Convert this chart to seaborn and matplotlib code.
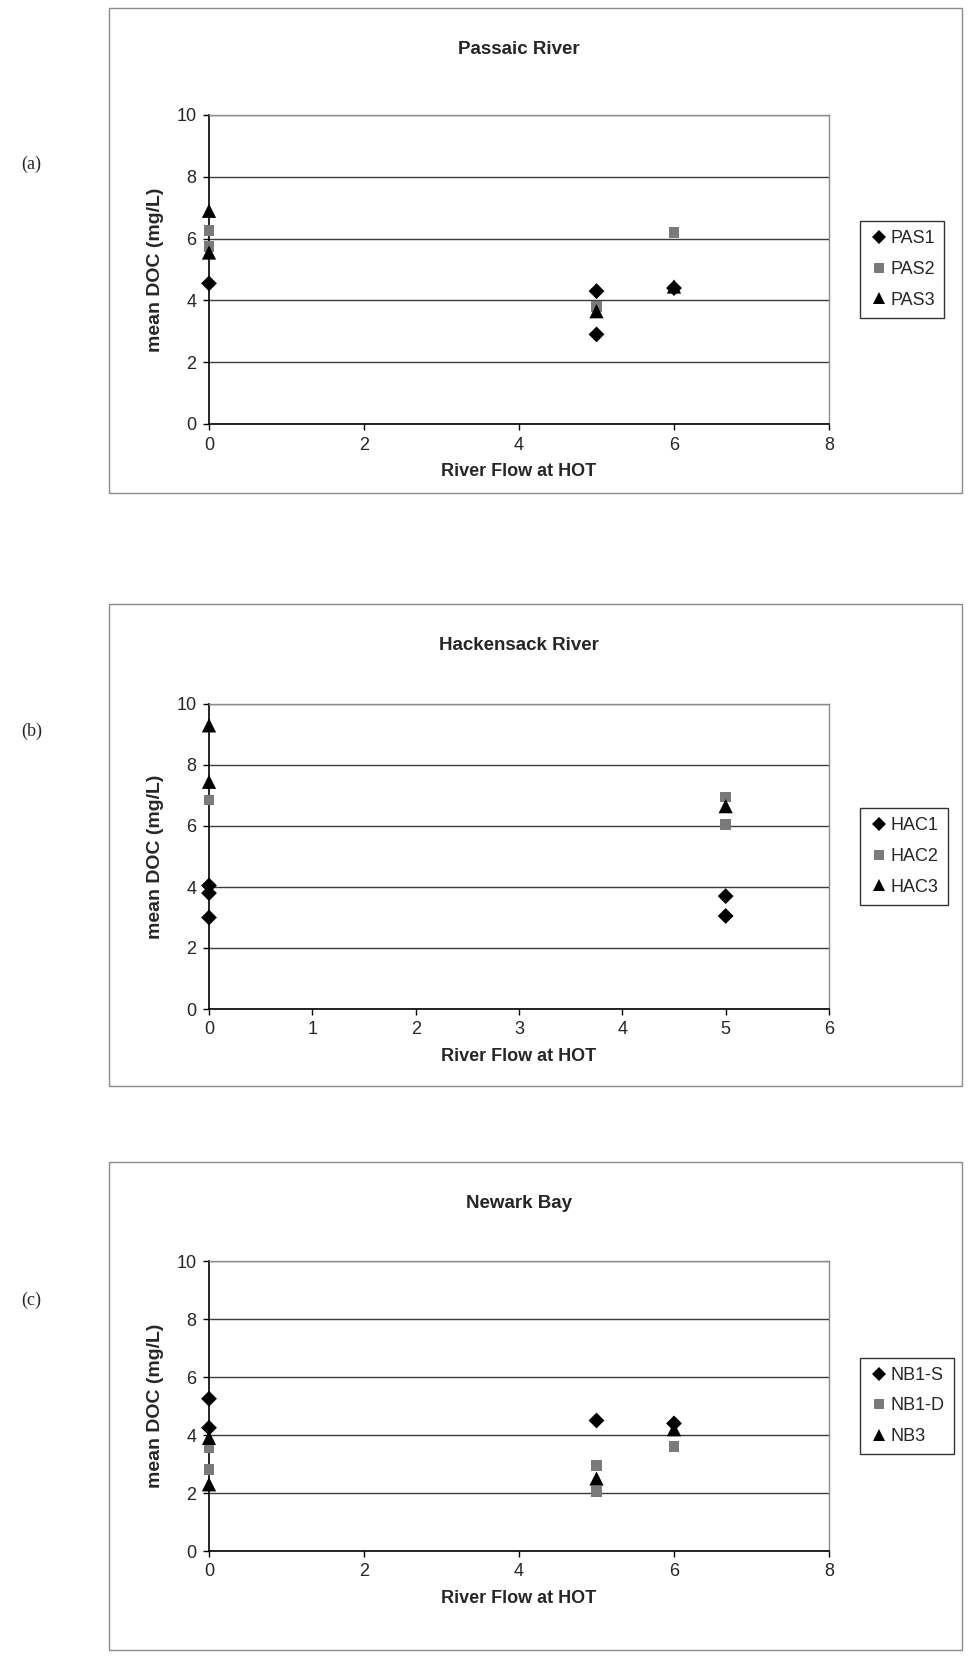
import pandas as pd
import matplotlib.pyplot as plt
import seaborn as sns
from matplotlib.patches import Rectangle

# ---- data ----
pas_names = ['PAS1', 'PAS2', 'PAS3']
pas_x = [[0, 5, 5, 6], [0, 0, 5, 6], [0, 0, 5, 6]]
pas_y = [[4.55, 4.3, 2.9, 4.4], [6.25, 5.75, 3.8, 6.2], [6.9, 5.55, 3.65, 4.45]]

hac_names = ['HAC1', 'HAC2', 'HAC3']
hac_x = [[0, 0, 0, 5, 5], [0, 5, 5], [0, 0, 5]]
hac_y = [[4.05, 3.8, 3.0, 3.7, 3.05], [6.85, 6.95, 6.05], [9.3, 7.45, 6.65]]

nb_names = ['NB1-S', 'NB1-D', 'NB3']
nb_x = [[0, 0, 5, 6], [0, 0, 5, 5, 6], [0, 0, 5, 6]]
nb_y = [[5.25, 4.25, 4.5, 4.4], [3.55, 2.8, 2.95, 2.05, 3.6], [3.9, 2.3, 2.5, 4.2]]

titles = ['Passaic River', 'Hackensack River', 'Newark Bay']
panel_tags = ['(a)', '(b)', '(c)']
x_max = [8, 6, 8]

W, H = 968, 1661


def long_df(names, xs, ys):
    rows = []
    for n, xx, yy in zip(names, xs, ys):
        for a, b in zip(xx, yy):
            rows.append({'flow': a, 'doc': b, 'site': n})
    return pd.DataFrame(rows)


def px_axes(fig, left, top, right, bottom):
    return fig.add_axes([left / W, 1 - bottom / H, (right - left) / W, (bottom - top) / H])


sns.set_theme(style='white')
plt.rcParams['font.family'] = ['Liberation Sans', 'DejaVu Sans']

fig = plt.figure(figsize=(W / 100, H / 100), dpi=100)

# layout in pixels: (box top, box bottom, plot top, plot bottom, tag y)
layout = [
    (8, 493, 115, 424, 164),
    (604, 1086, 704, 1009, 731),
    (1162, 1650, 1261, 1551, 1300),
]

datasets = [(pas_names, pas_x, pas_y), (hac_names, hac_x, hac_y), (nb_names, nb_x, nb_y)]

for i, (names, xs, ys) in enumerate(datasets):
    box_top, box_bot, p_top, p_bot, tag_y = layout[i]
    fig.patches.append(Rectangle((109 / W, 1 - box_bot / H), (962 - 109) / W, (box_bot - box_top) / H,
                                 transform=fig.transFigure, fill=False, edgecolor='#8c8c8c', lw=1))
    fig.text(21 / W, 1 - tag_y / H, panel_tags[i], family='Liberation Serif', fontsize=13, va='center')
    fig.text(519 / W, 1 - (box_top + 42) / H, titles[i], fontsize=13.5, fontweight='bold',
             ha='center', va='center')

    ax = px_axes(fig, 209, p_top, 829, p_bot)
    df = long_df(names, xs, ys)
    sns.scatterplot(data=df, x='flow', y='doc', hue='site', style='site', size='site', ax=ax,
                    hue_order=names, style_order=names, size_order=names,
                    palette=dict(zip(names, ['black', '#7a7a7a', 'black'])),
                    markers=dict(zip(names, ['D', 's', '^'])),
                    sizes=dict(zip(names, [65, 60, 105])),
                    edgecolor='none', linewidth=0, zorder=3, clip_on=False)

    ax.set_xlim(0, x_max[i])
    ax.set_ylim(0, 10)
    ax.set_xticks(range(0, x_max[i] + 1, 2 if x_max[i] == 8 else 1))
    ax.set_yticks(range(0, 11, 2))
    ax.yaxis.grid(True, color='#3a3a3a', lw=1)
    ax.set_axisbelow(True)
    for side in ['left', 'bottom']:
        ax.spines[side].set_color('black')
        ax.spines[side].set_linewidth(1.2)
    for side in ['top', 'right']:
        ax.spines[side].set_color('#8c8c8c')
        ax.spines[side].set_linewidth(1)
    ax.tick_params(axis='both', direction='out', length=4, width=1, color='black',
                   labelsize=13, pad=5, bottom=True, left=True)
    ax.set_xlabel('River Flow at HOT', fontsize=13, fontweight='bold', labelpad=7)
    ax.set_ylabel('mean DOC (mg/L)', fontsize=14, fontweight='bold', labelpad=9)

    handles, labels = ax.get_legend_handles_labels()
    ax.legend(handles, labels, loc='center left',
              bbox_to_anchor=(860 / W, 1 - (p_top + p_bot) / 2 / H), bbox_transform=fig.transFigure,
              frameon=True, fancybox=False, edgecolor='black', fontsize=13,
              handletextpad=0.1, borderpad=0.5, labelspacing=0.75, handlelength=1.1,
              markerscale=0.85, borderaxespad=0)
    ax.get_legend().get_frame().set_linewidth(1)

fig.savefig('out.png', dpi=100)
